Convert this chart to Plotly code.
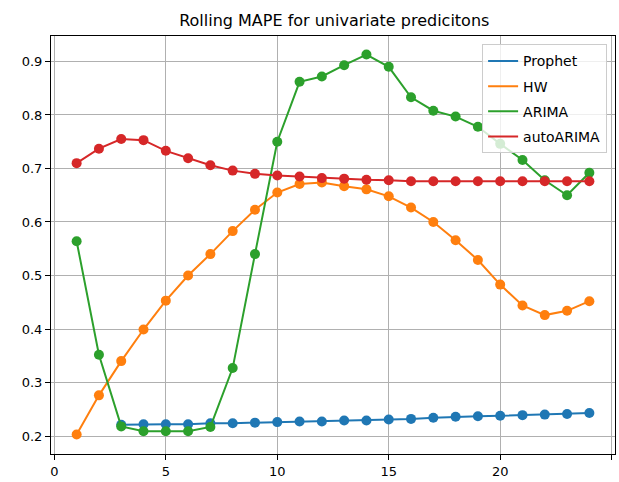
import plotly.graph_objects as go

steps = list(range(1, 25))
prophet_x = list(range(3, 25))
prophet = [0.221, 0.222, 0.222, 0.222, 0.224, 0.224, 0.225, 0.226, 0.227, 0.227,
           0.229, 0.229, 0.231, 0.232, 0.234, 0.236, 0.237, 0.238, 0.239, 0.240,
           0.241, 0.243]
hw = [0.203, 0.276, 0.340, 0.399, 0.453, 0.500, 0.540, 0.583, 0.623, 0.655,
      0.671, 0.674, 0.667, 0.661, 0.648, 0.627, 0.600, 0.566, 0.529, 0.483,
      0.444, 0.426, 0.434, 0.452]
arima = [0.564, 0.352, 0.218, 0.209, 0.209, 0.209, 0.217, 0.327, 0.540, 0.750,
         0.862, 0.872, 0.893, 0.913, 0.890, 0.833, 0.808, 0.797, 0.778, 0.746,
         0.716, 0.678, 0.650, 0.692]
autoarima = [0.710, 0.737, 0.755, 0.753, 0.733, 0.719, 0.706, 0.696, 0.690, 0.687,
             0.685, 0.682, 0.681, 0.679, 0.678, 0.676, 0.676, 0.676, 0.676, 0.676,
             0.676, 0.676, 0.676, 0.676]

series = [
    ("Prophet", prophet_x, prophet, "#1f77b4"),
    ("HW", steps, hw, "#ff7f0e"),
    ("ARIMA", steps, arima, "#2ca02c"),
    ("autoARIMA", steps, autoarima, "#d62728"),
]

fig = go.Figure()
for name, xs, ys, color in series:
    fig.add_trace(go.Scatter(x=xs, y=ys, mode="lines", name=name, legendgroup=name,
                             line=dict(color=color, width=2)))
    fig.add_trace(go.Scatter(x=xs, y=ys, mode="markers", name=name, legendgroup=name,
                             showlegend=False,
                             marker=dict(color=color, size=10, line=dict(width=0))))

font = "DejaVu Sans, sans-serif"
axis_common = dict(showgrid=True, gridcolor="#b0b0b0", gridwidth=1,
                   showline=True, linecolor="black", linewidth=1, mirror=True,
                   ticks="outside", ticklen=5, tickcolor="black", zeroline=False,
                   tickfont=dict(family=font, size=13, color="black"))

fig.update_layout(
    width=619, height=482,
    margin=dict(l=51, r=3, t=36, b=26),
    paper_bgcolor="white", plot_bgcolor="white",
    title=dict(text="Rolling MAPE for univariate predicitons", x=0.54, xanchor="center",
               y=0.958, yanchor="middle",
               font=dict(family=font, size=16, color="black")),
    xaxis=dict(range=[-0.15, 25.15], tickvals=[0, 5, 10, 15, 20, 25], **axis_common),
    yaxis=dict(range=[0.1664, 0.9476], tickvals=[0.2, 0.3, 0.4, 0.5, 0.6, 0.7, 0.8, 0.9],
               tickformat=".1f", **axis_common),
    legend=dict(x=0.986, y=0.98, xanchor="right", yanchor="top",
                bgcolor="rgba(255,255,255,0.8)", bordercolor="#cccccc", borderwidth=1,
                tracegroupgap=4,
                font=dict(family=font, size=14, color="black")),
    showlegend=True,
)

fig.write_html("out.html", config={"displayModeBar": False})
with open("out.html", "r", encoding="utf-8") as f:
    html = f.read()
html = html.replace("<head>", "<head><style>html,body{margin:0;padding:0;overflow:hidden;}</style>", 1)
with open("out.html", "w", encoding="utf-8") as f:
    f.write(html)
